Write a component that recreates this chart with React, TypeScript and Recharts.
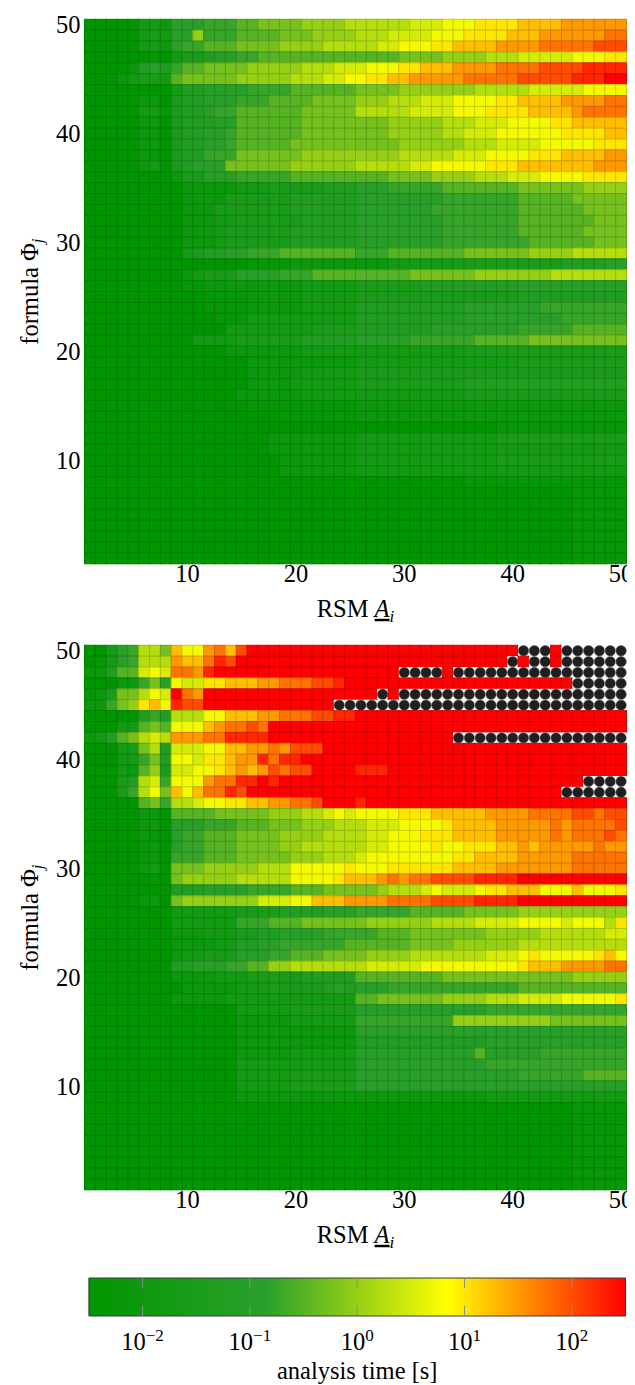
import React from 'react';
import { ScatterChart, Scatter, XAxis, YAxis, ComposedChart, ReferenceArea, ReferenceLine, Label } from 'recharts';

// level letters: log10(time) = -2.5 + index * 0.25 ; 'X' = timeout
const LEVELS = 'abcdefghijklmnopqrstu';
const RSM_TICKS = [10, 20, 30, 40, 50];
const FORMULA_TICKS = [10, 20, 30, 40, 50];
const CB_TICKS = [0.01, 0.1, 1, 10, 100];
const CB_DOMAIN = [Math.pow(10, -2.5), Math.pow(10, 2.5)];

// rows listed from formula 50 (top) down to formula 1, columns RSM 1..50
const TOP_ROWS = [
  'aaaaaddcggghhhiijjjjkkkkl' + 'lllllmmmnnnooooppppqqqqqq',
  'aaaaadedggkhhhiiiijjjkkkk' + 'lllmmmmnnnoooopppqqqqqqrr',
  'aaaaaddcghhiiijjjjkkkklll' + 'llmmnnnooppppqqqqrrrrrsss',
  'aaaaaabadeefgghhiiiiiiiii' + 'iiiijjjjkkkklllmmmmmnnnoo',
  'aaaabfgfhiijjjjkkkkklllmm' + 'mnnnoopppqqqqrrrrsssstttt',
  'aaacdeedijjjjjkkkkklllmmn' + 'nooppqqqqqrrrrrssssstttuu',
  'aaaaaaaadffgggghhhhiiiiii' + 'jjjjkkkkkkklllllmmmmmnnnn',
  'aaaaaccaeffggghhhiiiijjjj' + 'kkklllmmmnnnnooppppqqqqrr',
  'aaaaaddbeffghhiiiiiijjjjj' + 'lllllmmmmnnnooooppppqrrrr',
  'aaaaaccaefffggiiiiiijjjjj' + 'jjjkkkkklllmmmnnnnooppppp',
  'aaaaaccaeffgghiiiiiijjjjj' + 'jjjkkkkkllmmmnnnnnnoooopp',
  'aaaaaccaeffgghiiiiijjjjjj' + 'jjjjkkkkkklllmmmmnnnnnooo',
  'aaaaacbaeffhhhjjjjjjkkkkk' + 'kkkklllllmmmnnnnoooppppqq',
  'aaaaacdaefgggjjjjjjkkkkkk' + 'lllllmmnnnnnooopppppppqqq',
  'aaaaaaaaceeggghhhhhiiiiii' + 'iiijjjjkkkklllmmmnnnnoooo',
  'aaaaaaaaacccccdddeeeeefff' + 'ggghhhhhiiiiiiijjjjjjkkkk',
  'aaaaaaaaacccceeeeeeffffff' + 'gggggggghhhhhhhiiiiijjjjj',
  'aaaaaaaaaccceeeeeeeffffff' + 'ggggggghhhhhhhhiiiiiijjjj',
  'aaaaaaaaacccddeeeeeefffff' + 'gggggggghhhhhhhiiiiiiijjj',
  'aaaaaaaaacccdeeeeeeffffff' + 'gggggggghhhhhhhiiiiiijjjj',
  'aaaaaaaaacccdeeeeeeffffff' + 'gggggggghhhhhhhhiiiiiijjj',
  'aaaaaaaaadeffgghhhiiiiiii' + 'hhhiiiiiiijjjjjjkkkklllll',
  'aaaaaaaaaaaaaaabbbbcccccc' + 'cccddddddeeeeeeeeeeffffgg',
  'aaaaaaaaacdeeegggghhhiiii' + 'iiiiijjjjjjkkkkkkklllllll',
  'aaaaaaaaabbcccccccccddddd' + 'eeeeeefffffffffgggggggggg',
  'aaaaaaaaaaabbbbcccccddddd' + 'eeeeeeeeeeeeeeeffffffffff',
  'aaaaaaaaaaabbbbcccccddddd' + 'ffffffffffggggggghhhhhhhh',
  'aaaaaaaaaaaabbbdddddddddd' + 'ffffffffffggggggggghhhhhh',
  'aaaaaaaaaaaaaddddddddeeee' + 'fffffffgggggggghhhhhiiiii',
  'aaaaaaaaaaddddeeeeeefffff' + 'ggggghhhhhhiiiiijjjjjjjjj',
  'aaaaaaaaaaaaacccccccddddd' + 'ddddddddddeeeeeeeeeeeeeee',
  'aaaaaaaaaaaaaaacccccccccc' + 'dddddddddddddddeeeeeeeeee',
  'aaaaaaaaaaaaaaacccccddddd' + 'eeeeeeeeeeeeeeeeeeeeeeeee',
  'aaaaaaaaaaaaaaaccccdddddd' + 'eeeeeeeeeefffffffffffffff',
  'aaaaaaaaaaaaaaccccccddddd' + 'ddddddddddeeeeeeeeeeeeeee',
  'aaaaaaaaaaaaaaabbbbbbbbbb' + 'ccccccccccccccccccccccccc',
  'aaaaaaaaaaaaaaaaaabbbbbbb' + 'ccccccccccccccccccccccccc',
  'aaaaaaaaaaaaaaaaaaaaaaaaa' + 'aaaaaaaaaaaaabbbbbbbbbbbb',
  'aaaaaaaaaaaaaaaaacccccccc' + 'dddddddddddddeeeeeeeeeeee',
  'aaaaaaaaaaaaaaaaacccccccc' + 'ddddddddddddddddddddddddd',
  'aaaaaaaaaaaaaaaaaaccccccc' + 'dddddddddddddeeeeeeeeeeee',
  'aaaaaaaaaaaaaaaaaaccccccc' + 'ddddddddddddddddddddddddd',
  'aaaaaaaaaaaaaaaaaaaaaaaaa' + 'aaaaaaaaaabbbbbbbbbbbbbbb',
  'aaaaaaaaaaaaaaaaaaaaaaaaa' + 'aaaaaaaaaaaaaaaaaaaabbbbb',
  'aaaaaaaaaaaaaaaaaaaaaaaaa' + 'aaaaaaaaaaaaaaaaaaaabbbbb',
  'aaaaaaaaaaaaaaaaaaaaaaaaa' + 'aaaaaaaaaaaaaaaaaaaabbbbb',
  'aaaaaaaaaaaaaaaaaaaaaaaaa' + 'aaaaaaaaaaaaaaaaaaaabbbbb',
  'aaaaaaaaaaaaaaaaaaaaaaaaa' + 'aaaaaaaaaaaaaaaaaaaabbbbb',
  'aaaaaaaaaaaaaaaaaaaaaaaaa' + 'aaaaaaaaaaaaaaaaaaaabbbbb',
  'aaaaaaaaaaaaaaaaaaaaaaaaa' + 'aaaaaaaaaaaaaaaaaaaabbbbb',
];

const BOTTOM_ROWS = [
  'aadghlljpnnqrpsuuuuuuuuuu' + 'uuuuuuuuuuuuuuuXXXuXXXXXX',
  'abdghlllqpprtsuuuuuuuuuuu' + 'uuuuuuuuuuuuuuXuXXuXXXXXX',
  'ccfiimnmrrqtuuuuuuuuuuuuu' + 'uuuuXXXXuXXXXXXXXXXXXXXXX',
  'aaacchjgnmmoopppqqrrrsstu' + 'uuuuuuuuuuuuuuuuuuuuXXXXX',
  'bcejjlnmurquuuuuuuuuuuuuu' + 'uuXuXXXXXXXXXXXXXXXXXXXXX',
  'cchjkopntssuuuuuuuuuuuuXX' + 'XXXXXXXXXXXXXXXXXXXXXXXXX',
  'aaaaafhflllnnpppqqrrrsstt' + 'uuuuuuuuuuuuuuuuuuuuuuuuu',
  'aaaddijinnnpqrrsruuuuuuuu' + 'uuuuuuuuuuuuuuuuuuuuuuuuu',
  'cdfijlmlqqqrrttttuuuuuuuu' + 'uuuuuuuuuXXXXXXXXXXXXXXXX',
  'aaadejlfmmmnnppqqrqsssuuu' + 'uuuuuuuuuuuuuuuuuuuuuuuuu',
  'aaaddhjfnnmoopqqtrttuuuuu' + 'uuuuuuuuuuuuuuuuuuuuuuuuu',
  'aaadcikemmnnopqpqsrssuuuu' + 'tttuuuuuuuuuuuuuuuuuuuuuu',
  'aaaeflmhnnnqrrttutuuuuuuu' + 'uuuuuuuuuuuuuuuuuuuuuXXXX',
  'aaaehlnjpnprrtsuuuuuuuuuu' + 'uuuuuuuuuuuuuuuuuuuXXXXXX',
  'aaaaaijhllmnnooppqqrrsuuu' + 'tuuuuuuuuuuuuuuuuuuuuuuuu',
  'aaaaaccaiiiijjjjjkkkllmnm' + 'nnnnooopppppqqqqrrrrssrss',
  'aaaaaccaggghhhiiijjjkkkll' + 'lmmmnnnnoppppqqqqqrqrrrrs',
  'aaaaacbaghhiiijjjjkkkklll' + 'lmmnnnoooppppqqqqqrqrrrsr',
  'aaaaabcaghhiiijjjjkklllll' + 'lmmnnnnonnoooppqpqqqqqrqq',
  'aaaaabcahhhiiijjjjjkkklll' + 'mnnnnnnnnooppppqqqqqrrrrr',
  'aaaaacdajjjkkkkklllnnnnno' + 'nnnooooooppppqqqqqqqrrrrr',
  'aaaaaabajkkkkklllllnnnnop' + 'ppqrqrrssssttttuuuuuuuuuu',
  'aaaaaaaafffgggghhhhiiijjj' + 'jjklllmnmmmnoopppnnnpnnno',
  'aaaaaccajkkkkkkkmmmnnpppq' + 'qqqrrrrssssttttuuuuuuuuuu',
  'aaaaaaaaddddddeeeeffffggg' + 'hhhhhiiiiijjjjjkkkkkkkkkk',
  'aaaaaaaaddddddhhhiiijjjjj' + 'jkkkkkkllllmmmmnnnnmnnnlo',
  'aaaaaaaacccdddeeffgggghhh' + 'hhiiijjjjjjjkkkkkllllllmm',
  'aaaaaaaaccccddffgghhhhhhi' + 'iiiiijjjjkkkkkkllllllllll',
  'aaaaaaaacddeeeggghhiiijjj' + 'jkkkklllllllmmmnonnnnnopn',
  'aaaaaaaaffggghhiikkllllll' + 'lmmmmmnnnnnnnnnopppqqqqrr',
  'aaaaaaaaccccdddeeeeefffff' + 'iiiiiiiijjjjjjjjjjjjkkkkk',
  'aaaaaaaaacccccdddeeeeefgf' + 'ggghhhhhhhhhhhhiiiiiiiiii',
  'aaaaaaaacccccdddddddddddd' + 'iijjjjjjkkkklllmmmmnnnnno',
  'aaaaaaaaaaaaaadddddeeeeee' + 'gggggggggggghhhhhhhhhhhhh',
  'aaaaaaaaaaaaaacccccdddddd' + 'hhhhhhhhhkkkkkkkkkjjjjjjj',
  'aaaaaaaaaaaaaaccccccccccc' + 'ggggggggggggggggggggggggg',
  'aaaaaaaaaaaaaaccccccccccc' + 'ffffffffffffggggggggggggg',
  'aaaaaaaaaaaaaacccccdddddd' + 'gggggggggggiggggghhhhhhhh',
  'aaaaaaaaaaaaaaddddddddddd' + 'gggggggggggghhhhhhhhhhhhh',
  'aaaaaaaaaaaaaadddddeeeeee' + 'ggggggggggggggghhhhhhiiii',
  'aaaaaaaaaaaaaadddddeeeeee' + 'ggggggggggggggggggggggggg',
  'aaaaaaaaaaaaaaccccccccccc' + 'ccccccccccccddddddddddddd',
  'aaaaaaaaaaaaaaaaaaaaaaaaa' + 'aaaaaaaaaaaaaaaaaaaabbbbb',
  'aaaaaaaaaaaaaaaaaaaaaaaaa' + 'aaaaaaaaaaaaaaaaaaaabbbbb',
  'aaaaaaaaaaaaaaaaaaaaaaaaa' + 'aaaaaaaaaaaaaaaaaaaabbbbb',
  'aaaaaaaaaaaaaaaaaaaaaaaaa' + 'aaaaaaaaaaaaaaaaaaaabbbbb',
  'aaaaaaaaaaaaaaaaaaaaaaaaa' + 'aaaaaaaaaaaaaaaaaaaabbbbb',
  'aaaaaaaaaaaaaaaaaaaaaaaaa' + 'aaaaaaaaaaaaaaaaaaaabbbbb',
  'aaaaaaaaaaaaaaaaaaaaaaaaa' + 'aaaaaaaaaaaaaaaaaaaabbbbb',
  'aaaaaaaaaaaaaaaaaaaaaaaaa' + 'aaaaaaaaaaaaaaaaaaaabbbbb',
];

// colormap stops (fraction of log range)
const CMAP: [number, [number, number, number]][] = [
  [0, [0, 150, 0]],
  [1 / 3, [44, 160, 44]],
  [2 / 3, [255, 255, 0]],
  [1, [255, 0, 0]],
];

const FONT = "'Liberation Serif', 'DejaVu Serif', serif";
const FS = 24.5;
const FS_SMALL = 17;

const CHART_W = 627;
const Y_AXIS_W = 76.5;
const M_TOP = 11.3;
const M_RIGHT = 8.5;
const PLOT_H = 544.5;
const CHART_H = 626;
const X_AXIS_H = CHART_H - M_TOP - PLOT_H;
const PLOT_W = CHART_W - Y_AXIS_W - M_RIGHT;
const CELL_W = PLOT_W / 50;
const CELL_H = PLOT_H / 50;

function colorAt(t: number): [number, number, number] {
  const lg = Math.log10(t);
  let f = (lg + 2.5) / 5;
  f = Math.max(0, Math.min(1, f));
  for (let i = 0; i < CMAP.length - 1; i++) {
    const [f0, c0] = CMAP[i];
    const [f1, c1] = CMAP[i + 1];
    if (f <= f1 + 1e-9) {
      const u = (f - f0) / (f1 - f0);
      return [0, 1, 2].map((k) => Math.round(c0[k] + (c1[k] - c0[k]) * u)) as [number, number, number];
    }
  }
  return CMAP[CMAP.length - 1][1];
}

function fit(r: string) {
  return (r + r[r.length - 1].repeat(50)).slice(0, 50);
}

function toCells(rows: string[]) {
  const out: { x: number; y: number; t: number | null; timeout: boolean }[] = [];
  rows.forEach((raw, ri) => {
    const row = fit(raw);
    const y = 50 - ri;
    for (let c = 0; c < 50; c++) {
      const ch = row[c];
      if (ch === 'X') out.push({ x: c + 1, y, t: null, timeout: true });
      else out.push({ x: c + 1, y, t: Math.pow(10, -2.5 + LEVELS.indexOf(ch) * 0.25), timeout: false });
    }
  });
  return out;
}

const TOP_CELLS = toCells(TOP_ROWS);
const BOTTOM_CELLS = toCells(BOTTOM_ROWS);

const CellShape = (props: any) => {
  const { cx, cy, payload } = props;
  if (cx == null || cy == null || !payload) return <g />;
  const x0 = cx - CELL_W / 2;
  const y0 = cy - CELL_H / 2;
  if (payload.timeout) {
    return (
      <g>
        <rect x={x0} y={y0} width={CELL_W} height={CELL_H} fill="#ffffff" />
        <circle cx={cx} cy={cy} r={5.2} fill="#1f1f1f" stroke="#555555" strokeWidth={0.6} />
      </g>
    );
  }
  const [r, g, b] = colorAt(payload.t);
  const d = 0.84;
  return (
    <rect
      x={x0}
      y={y0}
      width={CELL_W}
      height={CELL_H}
      fill={`rgb(${r},${g},${b})`}
      stroke={`rgb(${Math.round(r * d)},${Math.round(g * d)},${Math.round(b * d)})`}
      strokeWidth={1}
    />
  );
};

const XLabel = (props: any) => {
  const vb = props.viewBox || {};
  const cx = vb.x + vb.width / 2;
  const y = vb.y + 53;
  return (
    <text x={cx} y={y} textAnchor="middle" fontFamily={FONT} fontSize={FS} fill="#000">
      RSM{' '}
      <tspan fontStyle="italic" style={{ textDecoration: 'underline' }}>A</tspan>
      <tspan fontStyle="italic" fontSize={FS_SMALL} dy={5}>i</tspan>
    </text>
  );
};

const YLabel = (props: any) => {
  const vb = props.viewBox || {};
  const cy = vb.y + vb.height / 2;
  const x = 30;
  return (
    <text
      x={x}
      y={cy}
      textAnchor="middle"
      fontFamily={FONT}
      fontSize={FS}
      fill="#000"
      transform={`rotate(-90, ${x}, ${cy})`}
    >
      formula Φ
      <tspan fontStyle="italic" fontSize={FS_SMALL} dy={5}>j</tspan>
    </text>
  );
};

const tickStyle = { fontSize: FS, fill: '#000', fontFamily: FONT };

function Heatmap({ cells }: { cells: any[] }) {
  return (
    <ScatterChart
      width={CHART_W}
      height={CHART_H}
      margin={{ top: M_TOP, right: M_RIGHT, bottom: 0, left: 0 }}
    >
      <XAxis
        type="number"
        dataKey="x"
        domain={[0.5, 50.5]}
        ticks={RSM_TICKS}
        interval={0}
        tickLine={false}
        axisLine={false}
        tickSize={0}
        tickMargin={1}
        height={X_AXIS_H}
        tick={tickStyle}
      >
        <Label content={XLabel} />
      </XAxis>
      <YAxis
        type="number"
        dataKey="y"
        domain={[0.5, 50.5]}
        ticks={FORMULA_TICKS}
        interval={0}
        tickLine={false}
        axisLine={false}
        tickSize={0}
        tickMargin={4}
        width={Y_AXIS_W}
        tick={tickStyle}
      >
        <Label content={YLabel} />
      </YAxis>
      <Scatter data={cells} shape={CellShape} isAnimationActive={false} />
    </ScatterChart>
  );
}

const CB_H = 125;
const CB_TOP = 18;
const CB_PLOT_H = 38;
const CB_LEFT = 80.9;
const CB_RIGHT = 9.5;
const CB_DATA = CB_TICKS.map((t) => ({ x: t, y: 0.5 }));

const CbTick = (props: any) => {
  const { x, y, payload } = props;
  const e = Math.round(Math.log10(payload.value));
  const es = e < 0 ? `\u2212${-e}` : `${e}`;
  return (
    <text x={x} y={y + 34} textAnchor="middle" fontFamily={FONT} fontSize={FS} fill="#000">
      10
      <tspan fontSize={FS_SMALL} dy={-9}>{es}</tspan>
    </text>
  );
};

const CbLabel = (props: any) => {
  const vb = props.viewBox || {};
  return (
    <text x={vb.x + vb.width / 2} y={vb.y + 63} textAnchor="middle" fontFamily={FONT} fontSize={FS} fill="#000">
      analysis time [s]
    </text>
  );
};

function ColorBar() {
  return (
    <ComposedChart
      width={CHART_W}
      height={CB_H}
      data={CB_DATA}
      margin={{ top: CB_TOP, right: CB_RIGHT, bottom: 0, left: CB_LEFT }}
    >
      <XAxis
        type="number"
        dataKey="x"
        scale="log"
        domain={CB_DOMAIN}
        ticks={CB_TICKS}
        interval={0}
        allowDataOverflow
        tickLine={false}
        axisLine={false}
        tickSize={0}
        tickMargin={0}
        height={CB_H - CB_TOP - CB_PLOT_H}
        tick={<CbTick />}
      >
        <Label content={CbLabel} />
      </XAxis>
      <YAxis type="number" dataKey="y" domain={[0, 1]} hide />
      <ReferenceArea
        x1={CB_DOMAIN[0]}
        x2={CB_DOMAIN[1]}
        y1={0}
        y2={1}
        fill="url(#cbGrad)"
        fillOpacity={1}
        stroke="#3a3a3a"
        strokeWidth={1}
        ifOverflow="visible"
      />
      {CB_TICKS.map((t) => (
        <ReferenceLine
          key={`b${t}`}
          segment={[{ x: t, y: 0 }, { x: t, y: 0.27 }]}
          stroke="#8c8c8c"
          strokeWidth={1}
        />
      ))}
      {CB_TICKS.map((t) => (
        <ReferenceLine
          key={`t${t}`}
          segment={[{ x: t, y: 0.73 }, { x: t, y: 1 }]}
          stroke="#8c8c8c"
          strokeWidth={1}
        />
      ))}
      <Scatter dataKey="y" shape={() => <g />} isAnimationActive={false} />
    </ComposedChart>
  );
}

export default function App() {
  return (
    <div style={{ width: CHART_W, fontFamily: FONT }}>
      <svg width={0} height={0} style={{ position: 'absolute' }}>
        <defs>
          <linearGradient id="cbGrad" x1="0" y1="0" x2="1" y2="0">
            {CMAP.map(([f, c]) => (
              <stop key={f} offset={f} stopColor={`rgb(${c[0]},${c[1]},${c[2]})`} />
            ))}
          </linearGradient>
        </defs>
      </svg>
      <Heatmap cells={TOP_CELLS} />
      <Heatmap cells={BOTTOM_CELLS} />
      <ColorBar />
    </div>
  );
}
